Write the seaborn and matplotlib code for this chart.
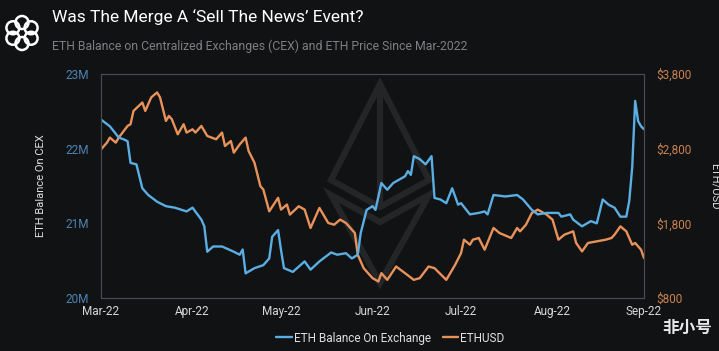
import pandas as pd
import numpy as np
import matplotlib
matplotlib.use("Agg")
import matplotlib.pyplot as plt
import matplotlib.dates as mdates
from matplotlib.patches import Polygon, Ellipse
import seaborn as sns

# --- data ---
start_date = "2022-03-01"

balance_days = [0, 3, 6, 8, 9, 10, 12, 14, 16, 19, 22, 25, 29, 31, 34, 35, 36, 38, 41, 45,
                47, 48, 49, 52, 55, 57, 58, 60, 61, 62, 65, 69, 71, 74, 78, 80, 83, 85, 87, 88,
                90, 92, 93, 95, 97, 99, 103, 104, 105, 106, 108, 110, 112, 113, 115, 117, 119, 121, 122, 125,
                128, 130, 131, 133, 137, 141, 143, 146, 148, 151, 155, 156, 159, 160, 163, 166, 168, 170, 172, 174,
                176, 178, 179, 180, 181, 182, 183, 184]
balance_m = [22.39, 22.30, 22.15, 22.12, 22.10, 21.81, 21.79, 21.47, 21.38, 21.29, 21.23, 21.21, 21.16, 21.21, 21.05, 20.96, 20.62, 20.69, 20.69, 20.62,
             20.58, 20.65, 20.33, 20.40, 20.44, 20.53, 20.82, 20.91, 20.64, 20.40, 20.35, 20.49, 20.38, 20.49, 20.61, 20.58, 20.60, 20.53, 20.58, 20.87,
             21.18, 21.23, 21.18, 21.54, 21.45, 21.54, 21.63, 21.70, 21.65, 21.90, 21.86, 21.79, 21.90, 21.34, 21.32, 21.27, 21.47, 21.25, 21.27, 21.12,
             21.14, 21.16, 21.12, 21.38, 21.36, 21.38, 21.32, 21.18, 21.12, 21.14, 21.14, 21.09, 21.12, 21.05, 20.96, 21.03, 21.00, 21.32, 21.25, 21.21,
             21.09, 21.09, 21.30, 21.75, 22.64, 22.37, 22.30, 22.26]

price_days = [0, 2, 3, 5, 6, 9, 10, 11, 14, 15, 17, 19, 20, 22, 23, 24, 26, 28, 29, 31,
              32, 34, 36, 39, 41, 42, 44, 45, 47, 49, 50, 52, 54, 55, 57, 60, 61, 63, 64, 67,
              69, 71, 74, 77, 79, 81, 83, 86, 87, 89, 92, 94, 95, 97, 100, 103, 106, 108, 111, 113,
              117, 120, 122, 123, 125, 126, 128, 130, 133, 135, 139, 141, 142, 144, 146, 148, 151, 153, 155, 157,
              160, 161, 163, 165, 168, 171, 173, 174, 176, 178, 180, 181, 183, 184]
price_usd = [2791, 2881, 2949, 2881, 2949, 3105, 3128, 3306, 3419, 3306, 3487, 3554, 3487, 3172, 3239, 3194, 2993, 3128, 3016, 3060,
             3016, 3105, 2971, 2926, 3016, 2836, 2903, 2747, 2858, 2949, 2770, 2612, 2298, 2253, 1961, 2142, 1984, 2052, 1917, 2029,
             1984, 1738, 2007, 1805, 1782, 1850, 1805, 1671, 1380, 1200, 1066, 1021, 1133, 1043, 1222, 1133, 1043, 1066, 1222, 1200,
             1043, 1245, 1402, 1581, 1514, 1581, 1604, 1447, 1738, 1671, 1604, 1738, 1693, 1782, 1940, 1984, 1917, 1850, 1581, 1648,
             1693, 1537, 1424, 1537, 1559, 1581, 1604, 1648, 1760, 1693, 1514, 1537, 1447, 1335]

month_ticks = ["2022-03-01", "2022-04-01", "2022-05-01", "2022-06-01",
               "2022-07-01", "2022-08-01", "2022-09-01"]
left_ticks = [20, 21, 22, 23]
right_ticks = [800, 1800, 2800, 3800]

# --- colours ---
BG = "#111214"
BLUE = "#5aaee3"
ORANGE = "#e8925a"
BLUE_TXT = "#4f84b3"
ORANGE_TXT = "#c9834f"
WM = "#242527"

t0 = pd.Timestamp(start_date)
bal = pd.DataFrame({"date": t0 + pd.to_timedelta(balance_days, unit="D"), "value": balance_m})
px = pd.DataFrame({"date": t0 + pd.to_timedelta(price_days, unit="D"), "value": price_usd})

sns.set_theme(style="dark", rc={"axes.facecolor": BG, "figure.facecolor": BG,
                                "axes.edgecolor": "#4a4b4e", "text.color": "white"})
plt.rcParams["font.family"] = ["Roboto", "DejaVu Sans"]

fig = plt.figure(figsize=(7.19, 3.51), dpi=100)
ax = fig.add_axes([0.1405, 0.151, 0.7552, 0.638])
ax2 = ax.twinx()

fx = lambda x: x / 719
fy = lambda y: 1 - y / 351

# ETH watermark (faint outline behind the lines, decoration only)
for pts in [[(380, 84), (331, 180), (380, 207), (429, 180)],
            [(331, 195), (380, 283), (429, 195), (380, 222)]]:
    ax2.add_patch(Polygon([(fx(a), fy(b)) for a, b in pts], closed=True, fill=False,
                          edgecolor=WM, lw=4.5, transform=fig.transFigure, zorder=0.5))
ax2.add_line(plt.Line2D([fx(380), fx(380)], [fy(84), fy(207)], color=WM, lw=4.5,
                        transform=fig.transFigure, zorder=0.5))

sns.lineplot(data=bal, x="date", y="value", ax=ax, color=BLUE, lw=1.7, label="ETH Balance On Exchange", legend=False)
sns.lineplot(data=px, x="date", y="value", ax=ax2, color=ORANGE, lw=1.7, label="ETHUSD", legend=False)
ax.set_zorder(ax2.get_zorder() + 1)
ax.patch.set_visible(False)

ax.set_xlim(t0, t0 + pd.Timedelta(days=184))
ax.set_ylim(20, 23)
ax2.set_ylim(800, 3800)
ax.set_xticks(pd.to_datetime(month_ticks))
ax.xaxis.set_major_formatter(mdates.DateFormatter("%b-%y"))
ax.set_yticks(left_ticks)
ax.set_yticklabels([f"{v}M" for v in left_ticks])
ax2.set_yticks(right_ticks)
ax2.set_yticklabels([f"${v:,}" for v in right_ticks])

ax.tick_params(axis="x", colors="#d8d8d8", labelsize=8.5, length=0, pad=5)
ax.tick_params(axis="y", colors=BLUE_TXT, labelsize=8.5, length=0, pad=9)
ax2.tick_params(axis="y", colors=ORANGE_TXT, labelsize=8.5, length=0, pad=9)
ax.set_xlabel("")
ax.set_ylabel("ETH Balance On CEX", color="#e0e0e0", fontsize=8, labelpad=14)
ax2.set_ylabel("ETH/USD", color="#e0e0e0", fontsize=8, rotation=270, labelpad=20)
ax.grid(False)
ax2.grid(False)
for a in (ax, ax2):
    for s in a.spines.values():
        s.set_color("#4a4b4e")
        s.set_linewidth(0.8)

h1, l1 = ax.get_legend_handles_labels()
h2, l2 = ax2.get_legend_handles_labels()
fig.legend(h1 + h2, l1 + l2, loc="center", bbox_to_anchor=(0.543, 0.037), ncol=2, frameon=False,
           fontsize=8.5, handlelength=1.3, handletextpad=0.2, columnspacing=1.0, labelcolor="#e0e0e0")

# titles
fig.text(0.072, 0.951, "Was The Merge A \u2018Sell The News\u2019 Event?", fontsize=12.5,
         color="white", va="center", ha="left")
fig.text(0.072, 0.869, "ETH Balance on Centralized Exchanges (CEX) and ETH Price Since Mar-2022",
         fontsize=8.8, color="#7e7f82", va="center", ha="left")

# logo (interlaced rings)
for k in range(6):
    ang = np.deg2rad(k * 60 + 30)
    cx, cy = 22 + 10.5 * np.cos(ang), 33 + 10.5 * np.sin(ang)
    fig.patches.append(Ellipse((fx(cx), fy(cy)), 13 / 719, 13 / 351, fill=False,
                               edgecolor="white", lw=1.8, transform=fig.transFigure))

fig.text(0.99, 0.065, "非小号", fontsize=12, color="#e8e8e8", ha="right", va="center",
         family=["Noto Sans CJK SC", "DejaVu Sans"], fontweight="bold")

fig.savefig("out.png", dpi=100, facecolor=BG)
